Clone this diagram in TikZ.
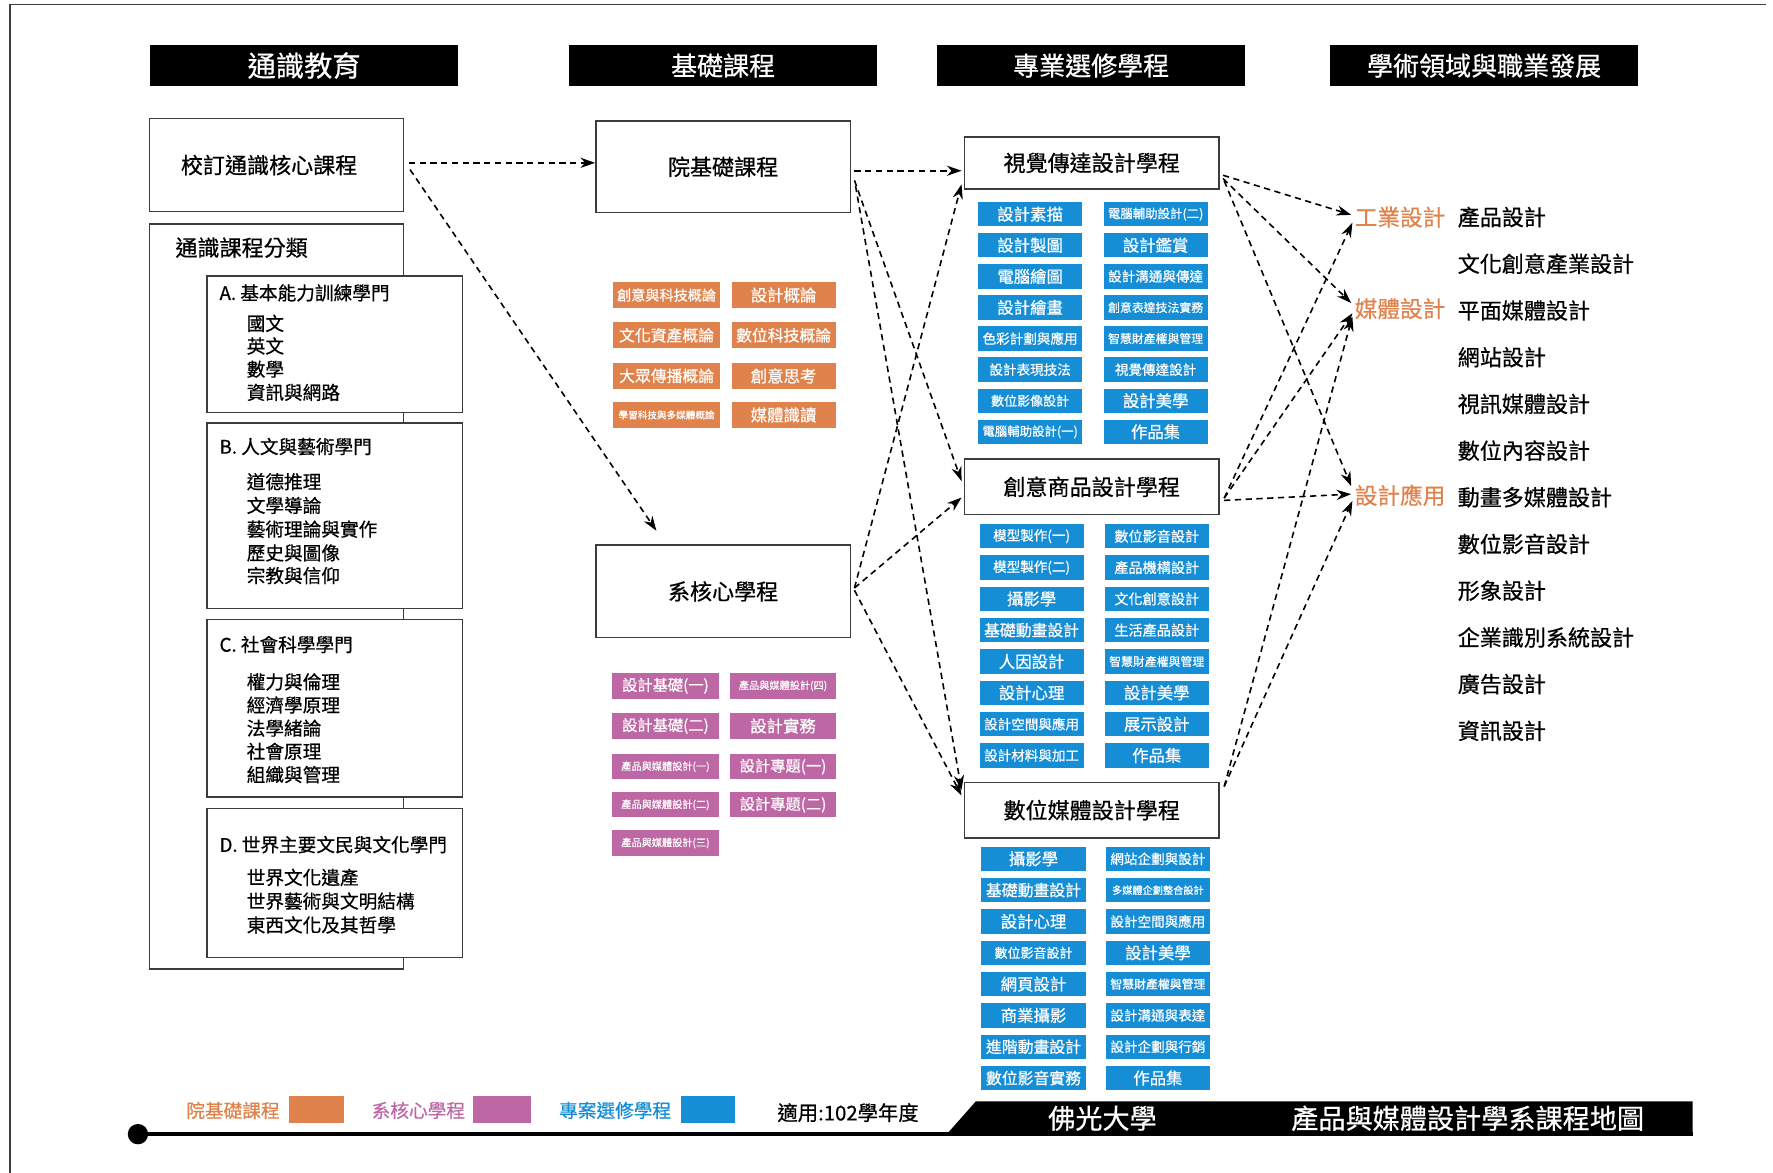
\documentclass[tikz,border=0pt]{standalone}
\usepackage{fontspec}
\setmainfont[FakeBold=0.6]{Noto Sans CJK TC}
\usetikzlibrary{arrows.meta}
\definecolor{oc}{RGB}{224,130,76}
\definecolor{pc}{RGB}{190,103,165}
\definecolor{bc}{RGB}{22,142,214}
\definecolor{lc}{RGB}{60,60,60}
\newcommand\myfs[1]{\fontsize{#1}{#1}\selectfont}
\begin{document}
\begin{tikzpicture}[x=1pt,y=-1pt,
  hdr/.style={fill=black,text=white,minimum width=272,minimum height=36,inner sep=0,font=\myfs{23}},
  bigbox/.style={draw=lc,line width=1.3,fill=white,minimum width=225,inner sep=0,font=\myfs{19.5}},
  subbox/.style={draw=lc,line width=1.3,fill=white,minimum width=226,inner sep=0},
  lt/.style={anchor=west,inner sep=0,font=\myfs{16.5}},
  ob/.style={fill=oc,text=white,minimum height=23,inner sep=0},
  pb/.style={fill=pc,text=white,minimum height=22.5,inner sep=0},
  bb/.style={fill=bc,text=white,minimum width=92,minimum height=21.5,inner sep=0},
  fl/.style={anchor=west,inner sep=0,text=oc,font=\myfs{20}},
  rl/.style={anchor=west,inner sep=0,font=\myfs{19.5}},
  conn/.style={line width=1.4,dash pattern=on 5.5pt off 4pt,-{Stealth[length=13pt,width=9pt]}},
  leg/.style={inner sep=0,font=\myfs{16.5}}
]
\useasboundingbox (0,0) rectangle (1568,1037);
% frame
\draw[lc,line width=1.5] (9,1037) -- (9,4) -- (1562,4);

% headers
\node[hdr,font=\myfs{25}] (h1) at (269,58) {通識教育};
\node[hdr] (h2) at (639.5,58) {基礎課程};
\node[hdr] (h3) at (965,58) {專業選修學程};
\node[hdr] (h4) at (1312.5,58) {學術領域與職業發展};

% column 1
\node[bigbox,minimum height=82,text width=205,align=left] (gc) at (244.5,146) {\hspace*{18pt}校訂通識核心課程};
\node[bigbox,minimum height=659] (gk) at (244.5,527.5) {};
\node[lt,font=\myfs{19.5}] (gkt) at (155,219) {通識課程分類};

\node[subbox,minimum height=121] (sa) at (296,304.5) {};
\node[lt] (sat) at (194,259) {A. 基本能力訓練學門};
\foreach \t/\y [count=\i] in {國文/286,英文/306,數學/326.5,資訊與網路/347}
  \node[lt] (sa\i) at (218,\y) {\t};

\node[subbox,minimum height=164] (sb) at (296,456) {};
\node[lt] (sbt) at (194,395) {B. 人文與藝術學門};
\foreach \t/\y [count=\i] in {道德推理/426,文學導論/447,藝術理論與實作/468,歷史與圖像/489,宗教與信仰/509}
  \node[lt] (sb\i) at (218,\y) {\t};

\node[subbox,minimum height=157] (sc) at (296,626.5) {};
\node[lt] (sct) at (194,570) {C. 社會科學學門};
\foreach \t/\y [count=\i] in {權力與倫理/603,經濟學原理/623.5,法學緒論/644,社會原理/664.5,組織與管理/685}
  \node[lt] (sc\i) at (218,\y) {\t};

\node[subbox,minimum height=132] (sd) at (296,781) {};
\node[lt] (sdt) at (194,747) {D. 世界主要文民與文化學門};
\foreach \t/\y [count=\i] in {世界文化遺產/776,世界藝術與文明結構/797,東西文化及其哲學/818}
  \node[lt] (sd\i) at (218,\y) {\t};

% column 2
\node[bigbox,minimum height=81] (yb) at (639.5,147.5) {院基礎課程};
\node[bigbox,minimum height=82] (xc) at (639.5,523) {系核心學程};

\node[ob,minimum width=95,font=\myfs{12.5}] (o11) at (589.5,261) {創意與科技概論};
\node[ob,minimum width=92,font=\myfs{14.5}] (o12) at (693,261) {設計概論};
\node[ob,minimum width=95,font=\myfs{14}] (o21) at (589.5,296.5) {文化資產概論};
\node[ob,minimum width=92,font=\myfs{14}] (o22) at (693,296.5) {數位科技概論};
\node[ob,minimum width=95,font=\myfs{14}] (o31) at (589.5,332.5) {大眾傳播概論};
\node[ob,minimum width=92,font=\myfs{14.5}] (o32) at (693,332.5) {創意思考};
\node[ob,minimum width=95,font=\myfs{8.5}] (o41) at (589.5,367) {學習科技與多媒體概論};
\node[ob,minimum width=92,font=\myfs{14.5}] (o42) at (693,367) {媒體識讀};

\node[pb,minimum width=95,font=\myfs{13.5}] (p11) at (588.5,606.5) {設計基礎(一)};
\node[pb,minimum width=93,font=\myfs{9}] (p12) at (692.5,606.5) {產品與媒體設計(四)};
\node[pb,minimum width=95,font=\myfs{13.5}] (p21) at (588.5,642) {設計基礎(二)};
\node[pb,minimum width=93,font=\myfs{14.5}] (p22) at (692.5,642) {設計實務};
\node[pb,minimum width=95,font=\myfs{9}] (p31) at (588.5,678) {產品與媒體設計(一)};
\node[pb,minimum width=93,font=\myfs{13.5}] (p32) at (692.5,678) {設計專題(一)};
\node[pb,minimum width=95,font=\myfs{9}] (p41) at (588.5,711.7) {產品與媒體設計(二)};
\node[pb,minimum width=93,font=\myfs{13.5}] (p42) at (692.5,711.7) {設計專題(二)};
\node[pb,minimum width=95,font=\myfs{9}] (p51) at (588.5,745.5) {產品與媒體設計(三)};

% column 3
\node[bigbox,minimum height=46] (c1) at (965.5,144) {視覺傳達設計學程};
\node[bigbox,minimum height=49] (c2) at (965.5,430.5) {創意商品設計學程};
\node[bigbox,minimum height=49] (c3) at (965.5,716.5) {數位媒體設計學程};

\foreach \t/\s [count=\i] in {設計素描/14.5,設計製圖/14.5,電腦繪圖/14.5,設計繪畫/14.5,色彩計劃與應用/12,設計表現技法/12,數位影像設計/11.5,電腦輔助設計(一)/11}
  \node[bb,font=\myfs{\s}] (va\i) at (911,{189.4+27.5*(\i-1)}) {\t};
\foreach \t/\s [count=\i] in {電腦輔助設計(二)/11,設計鑑賞/14.5,設計溝通與傳達/12,創意表達技法實務/10.5,智慧財產權與管理/10.5,視覺傳達設計/12,設計美學/14.5,作品集/14.5}
  \node[bb,font=\myfs{\s}] (vb\i) at (1022,{189.4+27.5*(\i-1)}) {\t};

\foreach \t/\s [count=\i] in {模型製作(一)/12,模型製作(二)/12,攝影學/14.5,基礎動畫設計/14,人因設計/14.5,設計心理/14.5,設計空間與應用/12,設計材料與加工/12}
  \node[bb,font=\myfs{\s}] (ca\i) at (912.3,{474.2+27.7*(\i-1)}) {\t};
\foreach \t/\s [count=\i] in {數位影音設計/12.5,產品機構設計/12.5,文化創意設計/12.5,生活產品設計/12.5,智慧財產權與管理/10.5,設計美學/14.5,展示設計/14.5,作品集/14.5}
  \node[bb,font=\myfs{\s}] (cb\i) at (1023,{474.2+27.7*(\i-1)}) {\t};

\foreach \t/\s [count=\i] in {攝影學/14.5,基礎動畫設計/14,設計心理/14.5,數位影音設計/11.5,網頁設計/14.5,商業攝影/14.5,進階動畫設計/14,數位影音實務/14}
  \node[bb,font=\myfs{\s}] (da\i) at (914,{759.5+27.7*(\i-1)}) {\t};
\foreach \t/\s [count=\i] in {網站企劃與設計/12,多媒體企劃整合設計/9,設計空間與應用/12,設計美學/14.5,智慧財產權與管理/10.5,設計溝通與表達/12,設計企劃與行銷/12,作品集/14.5}
  \node[bb,font=\myfs{\s}] (db\i) at (1024,{759.5+27.7*(\i-1)}) {\t};

% column 4
\node[fl] (f1) at (1198,192) {工業設計};
\node[fl] (f2) at (1198,273) {媒體設計};
\node[fl] (f3) at (1198,438) {設計應用};
\foreach \t [count=\i] in {產品設計,文化創意產業設計,平面媒體設計,網站設計,視訊媒體設計,數位內容設計,動畫多媒體設計,數位影音設計,形象設計,企業識別系統設計,廣告設計,資訊設計}
  \node[rl] (r\i) at (1289,{192+41.3*(\i-1)}) {\t};

% connectors column 1 -> 2
\draw[conn] ([xshift=4,yshift=2]gc.east) -- ([yshift=3.5]yb.west);
\draw[conn] ([xshift=5,yshift=-4]gc.east) -- ([xshift=-59,yshift=12]xc.north);
% column 2 -> 3
\draw[conn] ([xshift=3,yshift=-3.5]yb.east) -- ([xshift=-2,yshift=-7]c1.west);
\draw[conn] ([xshift=3,yshift=-12]yb.east) -- ([xshift=-2,yshift=5]c2.west);
\draw[conn] ([xshift=4,yshift=-17]yb.east) -- ([xshift=-2,yshift=18]c3.west);
\draw[conn] ([xshift=3,yshift=3]xc.east) -- ([xshift=-2,yshift=-19]c1.west);
\draw[conn] ([xshift=3,yshift=3]xc.east) -- ([xshift=-2,yshift=-9.5]c2.west);
\draw[conn] ([xshift=3,yshift=1]xc.east) -- ([xshift=-2,yshift=13]c3.west);
% column 3 -> 4
\draw[conn] ([xshift=3,yshift=-11]c1.east) -- ([xshift=-3,yshift=2]f1.west);
\draw[conn] ([xshift=3,yshift=-14]c1.east) -- ([xshift=-3,yshift=5]f2.west);
\draw[conn] ([xshift=4,yshift=-16]c1.east) -- ([xshift=-3,yshift=8]f3.west);
\draw[conn] ([xshift=4,yshift=-10]c2.east) -- ([xshift=-2,yshift=-5]f1.west);
\draw[conn] ([xshift=4,yshift=-10]c2.east) -- ([xshift=-2,yshift=-4]f2.west);
\draw[conn] ([xshift=4,yshift=-12]c2.east) -- ([xshift=-3,yshift=1]f3.west);
\draw[conn] ([xshift=4,yshift=21]c3.east) -- ([xshift=-2,yshift=-7]f2.west);
\draw[conn] ([xshift=4,yshift=21]c3.east) -- ([xshift=-2,yshift=-5]f3.west);

% legend
\node[leg,text=oc] (l1) at (206,982) {院基礎課程};
\node[fill=oc,minimum width=48,minimum height=24,inner sep=0] (l1b) at (280,981) {};
\node[leg,text=pc] (l2) at (370,982) {系核心學程};
\node[fill=pc,minimum width=52,minimum height=24,inner sep=0] (l2b) at (444,981) {};
\node[leg,text=bc] (l3) at (544,982) {專案選修學程};
\node[fill=bc,minimum width=48,minimum height=24,inner sep=0] (l3b) at (626,981) {};
\node[leg,font=\myfs{18}] (l4) at (750,984) {適用:102學年度};

% bottom line and banner
\fill (836,1004.5) -- (863,974) -- (1497,974) -- (1497,1004.5) -- cycle;
\node[circle,fill=black,minimum size=18,inner sep=0] (dot) at (122,1003) {};
\coordinate (lend) at (1497,1003);
\draw[line width=3.5] (dot.center) -- (lend);
\node[text=white,inner sep=0,font=\myfs{24}] (t1) at (975,989) {佛光大學};
\node[text=white,inner sep=0,font=\myfs{24}] (t2) at (1298,989) {產品與媒體設計學系課程地圖};
\end{tikzpicture}
\end{document}
